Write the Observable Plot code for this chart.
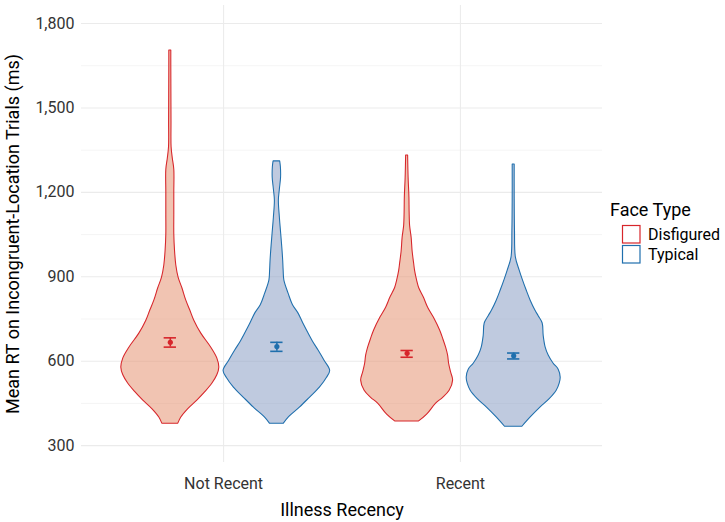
<!DOCTYPE html>
<html><head><meta charset="utf-8">
<script src="https://cdn.jsdelivr.net/npm/d3@7"></script>
<script src="https://cdn.jsdelivr.net/npm/@observablehq/plot@0.6"></script>
<style>body{margin:0;background:#fff;} svg{font-family:Roboto,"Liberation Sans",sans-serif;}</style>
</head><body><div id="chart"></div>
<script>
// ---- data ----
const recency = ["Not Recent", "Recent"];
const faceTypes = ["Disfigured", "Typical"];
const yTicksMajor = [300, 600, 900, 1200, 1500, 1800];
const yTicksMinor = [450, 750, 1050, 1350, 1650];

// violin outlines: RT values (ms) and relative half-widths (density)
const nrDisfiguredY = [378,400,430,460,490,520,550,577,610,648,698,744,780,815,860,897,940,993,1050,1120,1200,1280,1320,1360,1450,1550,1650,1704];
const nrDisfiguredW = [8,11,18,27,35,42,47,49,47,41,31,24,20,16,12,8.3,6,4.7,4,4,4,4,2.5,1.3,1.2,1.1,1,1];
const nrTypicalY = [378,400,435,470,506,540,566,600,638,670,698,730,769,800,840,886,920,958,1000,1053,1110,1171,1210,1253,1290,1310];
const nrTypicalW = [7,12,23,33,43,50,53.3,48,41.7,36,31.7,27,21.7,16,11.7,7.5,6.8,6.3,5.5,4.3,3,2,3,4.2,4,3.3];
const rDisfiguredY = [386,410,449,470,495,531,560,591,620,648,680,709,755,790,826,860,886,920,947,990,1039,1080,1130,1182,1250,1331];
const rDisfiguredW = [12,20,29,36,42.5,46,44,42,41,39,36,33,26.7,21,16.7,12,10,8,7,5.5,4.5,3,2.5,2.3,1.5,1];
const rTypicalY = [367,400,435,465,495,520,542,570,591,620,648,690,734,760,780,815,851,890,922,968,1064,1182,1299];
const rTypicalW = [8.7,17,26.7,36,43,46,47,45,40,35,32,30,29,25,21.7,17,13,9,6,2.2,1.3,1,1];

// means and error bars (ms), order: NR-Disfigured, NR-Typical, R-Disfigured, R-Typical
const meanRT = [667, 652, 628, 619];
const lowerRT = [650, 635, 614, 608];
const upperRT = [683, 667, 638, 629];

// ---- styling ----
const strokeColor = {Disfigured: "#D7262B", Typical: "#1F6FAD"};
const fillColor = {Disfigured: "#E38A66", Typical: "#7F95BF"};
const dodge = 0.225, capHalf = 0.026;

const groups = [
  {rec: 0, face: "Disfigured", y: nrDisfiguredY, w: nrDisfiguredW},
  {rec: 0, face: "Typical", y: nrTypicalY, w: nrTypicalW},
  {rec: 1, face: "Disfigured", y: rDisfiguredY, w: rDisfiguredW},
  {rec: 1, face: "Typical", y: rTypicalY, w: rTypicalW}
];
const maxW = d3.max(groups, g => d3.max(g.w));
const violin = [];
groups.forEach((g, gi) => {
  const c = g.rec + 1 + (g.face === "Disfigured" ? -dodge : dodge);
  g.center = c;
  g.y.forEach((y, i) => {
    const hw = g.w[i] / maxW * dodge;
    violin.push({gi, face: g.face, y, x1: c - hw, x2: c + hw});
  });
});
const summary = groups.map((g, i) => ({face: g.face, x: g.center, mean: meanRT[i], lo: lowerRT[i], hi: upperRT[i]}));

const plot = Plot.plot({
  width: 725, height: 522,
  marginLeft: 81, marginRight: 123, marginTop: 5, marginBottom: 60,
  style: {fontFamily: "Roboto", background: "#fff"},
  x: {domain: [0.4, 2.6]},
  y: {domain: [240, 1864]},
  marks: [
    Plot.gridY(yTicksMinor, {stroke: "#EBEBEB", strokeOpacity: 1, strokeWidth: 0.55}),
    Plot.gridY(yTicksMajor, {stroke: "#EBEBEB", strokeOpacity: 1, strokeWidth: 1.07}),
    Plot.gridX([1, 2], {stroke: "#EBEBEB", strokeOpacity: 1, strokeWidth: 1.07}),
    Plot.areaX(violin, {y: "y", x1: "x1", x2: "x2", z: "gi",
      fill: d => fillColor[d.face], fillOpacity: 0.5,
      stroke: d => strokeColor[d.face], strokeWidth: 1.07, curve: "catmull-rom"}),
    Plot.ruleX(summary, {x: "x", y1: "lo", y2: "hi", stroke: d => strokeColor[d.face], strokeWidth: 1.6}),
    Plot.ruleY(summary, {y: "lo", x1: d => d.x - capHalf, x2: d => d.x + capHalf, stroke: d => strokeColor[d.face], strokeWidth: 1.6}),
    Plot.ruleY(summary, {y: "hi", x1: d => d.x - capHalf, x2: d => d.x + capHalf, stroke: d => strokeColor[d.face], strokeWidth: 1.6}),
    Plot.dot(summary, {x: "x", y: "mean", r: 2.6, fill: d => strokeColor[d.face], stroke: "none"}),
    Plot.axisY({ticks: yTicksMajor, tickFormat: d3.format(","), tickSize: 0, tickPadding: 7, fontSize: 16, fill: "#333",
      label: "Mean RT on Incongruent-Location Trials (ms)", labelAnchor: "center", labelOffset: 75, labelArrow: false}),
    Plot.axisX({ticks: [1, 2], tickFormat: i => recency[i - 1], tickSize: 0, tickPadding: 15, fontSize: 16, fill: "#333",
      label: "Illness Recency", labelAnchor: "center", labelOffset: 53, labelArrow: false})
  ]
});

// style axis titles larger & black
d3.select(plot).selectAll("[aria-label='y-axis label'] text, [aria-label='x-axis label'] text")
  .style("font-size", "18px").attr("fill", "#000");
d3.select(plot).selectAll("[aria-label='y-axis label'], [aria-label='x-axis label']")
  .attr("fill", "#000").style("font-size", "18px");

// legend (drawn in the right margin)
const lg = d3.select(plot).append("g").attr("font-family", "Roboto").attr("text-anchor", "start");
lg.append("text").attr("x", 610).attr("y", 216).attr("font-size", 18).attr("fill", "#000").text("Face Type");
faceTypes.forEach((f, i) => {
  lg.append("rect").attr("x", 622.5).attr("y", 225.5 + i * 20).attr("width", 17.5).attr("height", 17.5)
    .attr("fill", "#fff").attr("stroke", strokeColor[f]).attr("stroke-width", 1.2);
  lg.append("text").attr("x", 648).attr("y", 240 + i * 20).attr("font-size", 16).attr("fill", "#000").text(f);
});

document.getElementById("chart").appendChild(plot);
</script>
</body></html>
